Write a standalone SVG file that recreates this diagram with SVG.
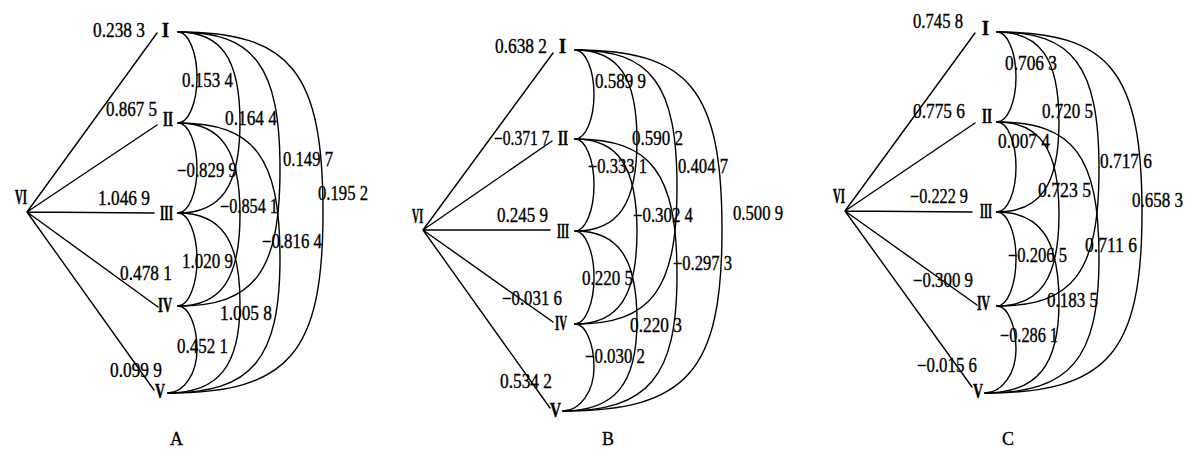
<svg xmlns="http://www.w3.org/2000/svg" width="1200" height="455" viewBox="0 0 1200 455">
<style>
.c{fill:none;stroke:#000;stroke-width:1.4;stroke-linecap:round}
.n{font-family:"Liberation Serif","DejaVu Serif",serif;font-weight:bold;font-size:21px;fill:#000;stroke:#000;stroke-width:0.5}
.v{font-family:"Liberation Serif","DejaVu Serif",serif;font-size:20px;fill:#000;stroke:#000;stroke-width:0.35}
.p{font-family:"Liberation Serif","DejaVu Serif",serif;font-size:18px;fill:#000;stroke:#000;stroke-width:0.3}
</style>
<rect width="1200" height="455" fill="#fff"/>

<!-- Panel A -->
<g id="A-connectors" class="c">
<path d="M27,212 L157,33 M27,212 L157,125 M27,212 L154,213 M27,212 L158,307 M27,212 L154,390"/>
<path d="M178,32 C188.5,32 197,52.5 197,77.5 C197,102.5 188.5,123 178,123"/>
<path d="M178,123 C188.5,123 197,143.3 197,168 C197,192.8 188.5,213 178,213"/>
<path d="M178,213 C188.5,213 197,233.9 197,259.5 C197,285.1 188.5,306 178,306"/>
<path d="M178,306 C188.5,306 197,325.6 197,349.5 C197,373.4 184,393 168,393"/>
<path d="M178,32 C221.4,32 240,59.1 240,122.5 C240,185.9 221.4,213 178,213"/>
<path d="M178,123 C221.4,123 240,150.4 240,214.5 C240,278.6 221.4,306 178,306"/>
<path d="M178,213 C221.4,213 240,240 240,303 C240,366 218.4,393 168,393"/>
<path d="M178,32 C254.5,32 280,66.3 280,169 C280,271.8 254.5,306 178,306"/>
<path d="M178,123 C254.5,123 280,156.8 280,258 C280,359.3 252,393 168,393"/>
<path d="M178,32 C291.1,32 323,71.7 323,212.5 C323,353.3 288.9,393 168,393"/>
</g>
<g id="A-edge-labels" class="v">
<text x="93" y="37" textLength="52" lengthAdjust="spacingAndGlyphs">0.238 3</text>
<text x="182" y="87" textLength="51" lengthAdjust="spacingAndGlyphs">0.153 4</text>
<text x="106" y="116" textLength="51" lengthAdjust="spacingAndGlyphs">0.867 5</text>
<text x="225" y="125" textLength="52" lengthAdjust="spacingAndGlyphs">0.164 4</text>
<text x="177" y="177" textLength="60" lengthAdjust="spacingAndGlyphs">−0.829 9</text>
<text x="283" y="166" textLength="50" lengthAdjust="spacingAndGlyphs">0.149 7</text>
<text x="318" y="200" textLength="50" lengthAdjust="spacingAndGlyphs">0.195 2</text>
<text x="98" y="205" textLength="52" lengthAdjust="spacingAndGlyphs">1.046 9</text>
<text x="220" y="213" textLength="58" lengthAdjust="spacingAndGlyphs">−0.854 1</text>
<text x="262" y="248" textLength="60" lengthAdjust="spacingAndGlyphs">−0.816 4</text>
<text x="182" y="268" textLength="51" lengthAdjust="spacingAndGlyphs">1.020 9</text>
<text x="120" y="280" textLength="52" lengthAdjust="spacingAndGlyphs">0.478 1</text>
<text x="220" y="320" textLength="52" lengthAdjust="spacingAndGlyphs">1.005 8</text>
<text x="177" y="353" textLength="51" lengthAdjust="spacingAndGlyphs">0.452 1</text>
<text x="110" y="377" textLength="52" lengthAdjust="spacingAndGlyphs">0.099 9</text>
</g>
<g id="A-VI"><text class="n" x="15" y="204" textLength="12" lengthAdjust="spacingAndGlyphs">VI</text></g>
<g id="A-I"><text class="n" x="162" y="37" textLength="7" lengthAdjust="spacingAndGlyphs">I</text></g>
<g id="A-II"><text class="n" x="163" y="126" textLength="10" lengthAdjust="spacingAndGlyphs">II</text></g>
<g id="A-III"><text class="n" x="160" y="220" textLength="13" lengthAdjust="spacingAndGlyphs">III</text></g>
<g id="A-IV"><text class="n" x="158" y="312" textLength="14" lengthAdjust="spacingAndGlyphs">IV</text></g>
<g id="A-V"><text class="n" x="155" y="398" textLength="10" lengthAdjust="spacingAndGlyphs">V</text></g>
<text class="p" x="170" y="445">A</text>

<!-- Panel B -->
<g id="B-connectors" class="c">
<path d="M423,230 L553,53 M423,230 L552,141 M423,230 L550,230 M423,230 L553,322 M423,230 L550,408"/>
<path d="M575,50 C585.5,50 594,70 594,94.5 C594,119 585.5,139 575,139"/>
<path d="M575,139 C585.5,139 594,159.7 594,185 C594,210.3 585.5,231 575,231"/>
<path d="M575,231 C585.5,231 594,251.9 594,277.5 C594,303.1 585.5,324 575,324"/>
<path d="M575,324 C585.5,324 594,343.6 594,367.5 C594,391.4 580,411 563,411"/>
<path d="M575,50 C618.4,50 637,77.1 637,140.5 C637,203.9 618.4,231 575,231"/>
<path d="M575,139 C618.4,139 637,166.8 637,231.5 C637,296.3 618.4,324 575,324"/>
<path d="M575,231 C618.4,231 637,258 637,321 C637,384 614.8,411 563,411"/>
<path d="M575,50 C651.5,50 677,84.3 677,187 C677,289.8 651.5,324 575,324"/>
<path d="M575,139 C651.5,139 677,173 677,275 C677,377 648.5,411 563,411"/>
<path d="M575,50 C689.7,50 722,89.7 722,230.5 C722,371.3 687,411 563,411"/>
</g>
<g id="B-edge-labels" class="v">
<text x="495" y="53" textLength="52" lengthAdjust="spacingAndGlyphs">0.638 2</text>
<text x="595" y="88" textLength="51" lengthAdjust="spacingAndGlyphs">0.589 9</text>
<text transform="translate(494,145) scale(0.78,1)">−0.371 7</text>
<text x="632" y="145" textLength="51" lengthAdjust="spacingAndGlyphs">0.590 2</text>
<text x="588" y="173" textLength="59" lengthAdjust="spacingAndGlyphs">−0.333 1</text>
<text x="678" y="173" textLength="50" lengthAdjust="spacingAndGlyphs">0.404 7</text>
<text x="497" y="222" textLength="51" lengthAdjust="spacingAndGlyphs">0.245 9</text>
<text x="633" y="222" textLength="60" lengthAdjust="spacingAndGlyphs">−0.302 4</text>
<text x="733" y="220" textLength="50" lengthAdjust="spacingAndGlyphs">0.500 9</text>
<text x="673" y="270" textLength="59" lengthAdjust="spacingAndGlyphs">−0.297 3</text>
<text x="582" y="285" textLength="51" lengthAdjust="spacingAndGlyphs">0.220 5</text>
<text x="502" y="305" textLength="60" lengthAdjust="spacingAndGlyphs">−0.031 6</text>
<text x="630" y="332" textLength="52" lengthAdjust="spacingAndGlyphs">0.220 3</text>
<text x="585" y="363" textLength="60" lengthAdjust="spacingAndGlyphs">−0.030 2</text>
<text x="500" y="388" textLength="52" lengthAdjust="spacingAndGlyphs">0.534 2</text>
</g>
<g id="B-VI"><text class="n" x="412" y="223" textLength="11" lengthAdjust="spacingAndGlyphs">VI</text></g>
<g id="B-I"><text class="n" x="559" y="53" textLength="7" lengthAdjust="spacingAndGlyphs">I</text></g>
<g id="B-II"><text class="n" x="558" y="145" textLength="10" lengthAdjust="spacingAndGlyphs">II</text></g>
<g id="B-III"><text class="n" x="557" y="238" textLength="12" lengthAdjust="spacingAndGlyphs">III</text></g>
<g id="B-IV"><text class="n" x="555" y="330" textLength="12" lengthAdjust="spacingAndGlyphs">IV</text></g>
<g id="B-V"><text class="n" x="550" y="417" textLength="11" lengthAdjust="spacingAndGlyphs">V</text></g>
<text class="p" x="602" y="445">B</text>

<!-- Panel C -->
<g id="C-connectors" class="c">
<path d="M845,211 L975,33 M845,211 L975,123 M845,211 L972,212 M845,211 L977,305 M845,211 L972,387"/>
<path d="M997,32 C1007.5,32 1016,52.3 1016,77 C1016,101.8 1007.5,122 997,122"/>
<path d="M997,122 C1007.5,122 1016,142.3 1016,167 C1016,191.8 1007.5,212 997,212"/>
<path d="M997,212 C1007.5,212 1016,233.2 1016,259 C1016,284.9 1007.5,306 997,306"/>
<path d="M997,306 C1007.5,306 1016,325.6 1016,349.5 C1016,373.4 1002,393 985,393"/>
<path d="M997,32 C1040.4,32 1059,59 1059,122 C1059,185 1040.4,212 997,212"/>
<path d="M997,122 C1040.4,122 1059,149.6 1059,214 C1059,278.4 1040.4,306 997,306"/>
<path d="M997,212 C1040.4,212 1059,239.2 1059,302.5 C1059,365.9 1036.8,393 985,393"/>
<path d="M997,32 C1073.5,32 1099,66.3 1099,169 C1099,271.8 1073.5,306 997,306"/>
<path d="M997,122 C1073.5,122 1099,155.9 1099,257.5 C1099,359.1 1070.5,393 985,393"/>
<path d="M997,32 C1110.1,32 1142,71.7 1142,212.5 C1142,353.3 1107.5,393 985,393"/>
</g>
<g id="C-edge-labels" class="v">
<text x="913" y="28" textLength="50" lengthAdjust="spacingAndGlyphs">0.745 8</text>
<text x="1005" y="70" textLength="52" lengthAdjust="spacingAndGlyphs">0.706 3</text>
<text x="913" y="118" textLength="52" lengthAdjust="spacingAndGlyphs">0.775 6</text>
<text x="1042" y="118" textLength="51" lengthAdjust="spacingAndGlyphs">0.720 5</text>
<text x="998" y="148" textLength="52" lengthAdjust="spacingAndGlyphs">0.007 4</text>
<text x="1100" y="168" textLength="52" lengthAdjust="spacingAndGlyphs">0.717 6</text>
<text x="1038" y="197" textLength="53" lengthAdjust="spacingAndGlyphs">0.723 5</text>
<text x="1132" y="207" textLength="51" lengthAdjust="spacingAndGlyphs">0.658 3</text>
<text x="910" y="203" textLength="58" lengthAdjust="spacingAndGlyphs">−0.222 9</text>
<text x="1008" y="262" textLength="59" lengthAdjust="spacingAndGlyphs">−0.206 5</text>
<text x="1085" y="252" textLength="52" lengthAdjust="spacingAndGlyphs">0.711 6</text>
<text x="913" y="287" textLength="60" lengthAdjust="spacingAndGlyphs">−0.300 9</text>
<text x="1047" y="307" textLength="51" lengthAdjust="spacingAndGlyphs">0.183 5</text>
<text x="1000" y="342" textLength="58" lengthAdjust="spacingAndGlyphs">−0.286 1</text>
<text x="917" y="372" textLength="60" lengthAdjust="spacingAndGlyphs">−0.015 6</text>
</g>
<g id="C-VI"><text class="n" x="833" y="203" textLength="12" lengthAdjust="spacingAndGlyphs">VI</text></g>
<g id="C-I"><text class="n" x="982" y="35" textLength="7" lengthAdjust="spacingAndGlyphs">I</text></g>
<g id="C-II"><text class="n" x="982" y="123" textLength="10" lengthAdjust="spacingAndGlyphs">II</text></g>
<g id="C-III"><text class="n" x="980" y="218" textLength="12" lengthAdjust="spacingAndGlyphs">III</text></g>
<g id="C-IV"><text class="n" x="977" y="310" textLength="13" lengthAdjust="spacingAndGlyphs">IV</text></g>
<g id="C-V"><text class="n" x="973" y="398" textLength="10" lengthAdjust="spacingAndGlyphs">V</text></g>
<text class="p" x="1002" y="445">C</text>
</svg>
